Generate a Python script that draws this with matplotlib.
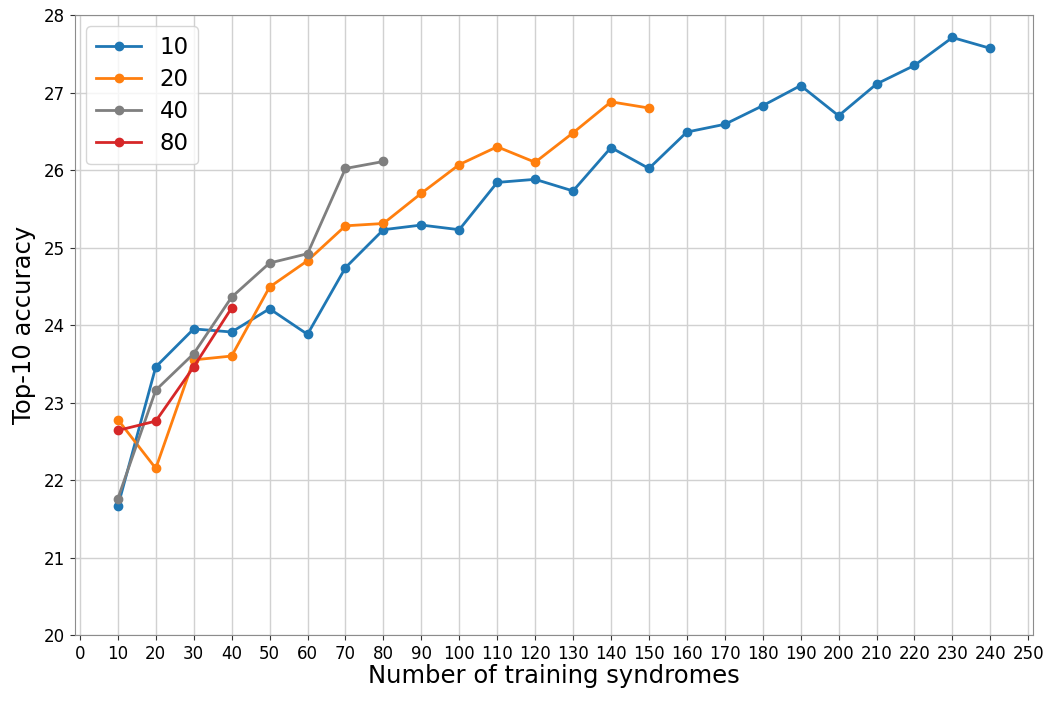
import matplotlib
matplotlib.use("Agg")
import matplotlib.pyplot as plt

## Data
x_10 = [10, 20, 30, 40, 50, 60, 70, 80, 90, 100, 110, 120, 130, 140, 150, 160,
        170, 180, 190, 200, 210, 220, 230, 240]
acc_10 = [21.66, 23.46, 23.95, 23.91, 24.21, 23.88, 24.74, 25.23, 25.29, 25.23,
          25.84, 25.88, 25.73, 26.29, 26.02, 26.49, 26.59, 26.83, 27.09, 26.70,
          27.11, 27.35, 27.71, 27.57]
x_20 = [10, 20, 30, 40, 50, 60, 70, 80, 90, 100, 110, 120, 130, 140, 150]
acc_20 = [22.78, 22.15, 23.55, 23.60, 24.49, 24.83, 25.28, 25.31, 25.70, 26.07,
          26.30, 26.10, 26.48, 26.88, 26.80]
x_40 = [10, 20, 30, 40, 50, 60, 70, 80]
acc_40 = [21.76, 23.16, 23.63, 24.36, 24.80, 24.92, 26.02, 26.11]
x_80 = [10, 20, 30, 40]
acc_80 = [22.64, 22.76, 23.46, 24.22]

series = [("10", x_10, acc_10, "#1f77b4"),
          ("20", x_20, acc_20, "#ff7f0e"),
          ("40", x_40, acc_40, "#7f7f7f"),
          ("80", x_80, acc_80, "#d62728")]

fig = plt.figure(figsize=(10.5, 7.02), dpi=100)
ax = fig.add_axes([0.0714, 0.0954, 0.9126, 0.8832])

for label, xs, ys, color in series:
    ax.plot(xs, ys, marker='o', linestyle='-', markersize=6, linewidth=2,
            color=color, label=label)

ax.set_xlim(-1.3, 251.3)
ax.set_ylim(20, 28)
ax.set_xticks(range(0, 251, 10))
ax.set_yticks(range(20, 29))
ax.tick_params(labelsize=12, color='0.2')
ax.grid(True, color='0.82', linewidth=1)
ax.set_axisbelow(True)
for s in ax.spines.values():
    s.set_color('0.55')

ax.set_xlabel('Number of training syndromes', fontsize=17.5, labelpad=1)
ax.set_ylabel('Top-10 accuracy', fontsize=17.5, labelpad=6)
ax.legend(loc='upper left', fontsize=16.5, labelspacing=0.4)

fig.savefig('out.png', dpi=100)
